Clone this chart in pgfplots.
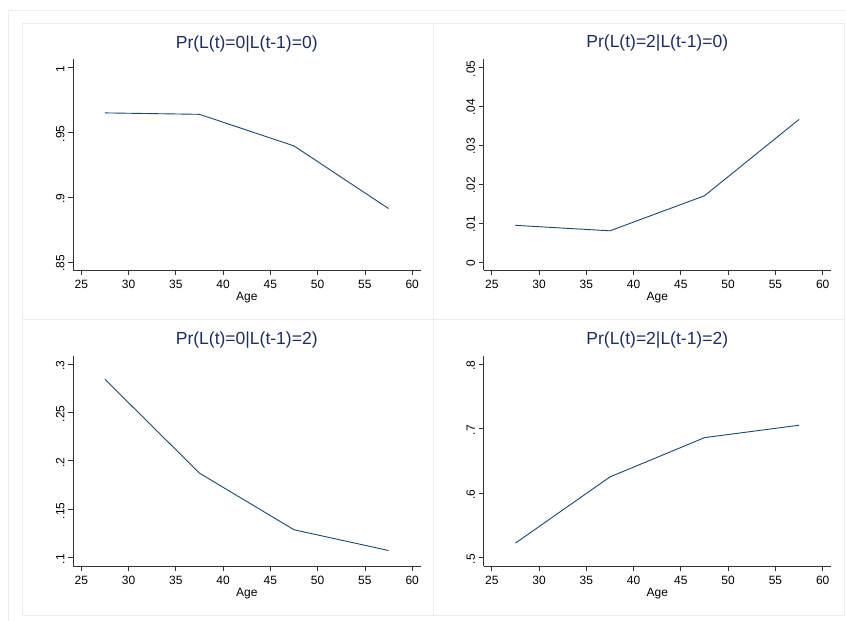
\documentclass[border=0pt]{standalone}
\usepackage{fontspec}
\setmainfont{Liberation Sans}
\usepackage{pgfplots}
\pgfplotsset{compat=1.18}
\definecolor{stnavy}{RGB}{26,71,111}
\definecolor{sttitle}{RGB}{30,45,95}
\definecolor{stframe}{RGB}{230,238,240}
\pgfplotsset{
 stata/.style={
  scale only axis, width=347.5bp, height=210.5bp,
  anchor=south west,
  axis x line*=bottom, axis y line*=left,
  axis line style={black!80, line width=0.9bp, -},
  tick align=outside, major tick length=5bp,
  tick style={black!80, line width=0.8bp},
  xmin=24.12, xmax=60.88,
  xtick={25,30,...,60},
  scaled y ticks=false, scaled x ticks=false,
  ticklabel style={font=\fontsize{12bp}{14bp}\selectfont},
  /pgf/number format/assume math mode=true,
  xlabel={Age},
  xlabel style={font=\fontsize{12bp}{14bp}\selectfont, at={(axis description cs:0.5,0)}, anchor=center, yshift=-27.4bp},
  yticklabel style={rotate=90, anchor=south, xshift=-1.5bp},
  xticklabel style={yshift=-1.5bp},
  title style={font=\fontsize{17.5bp}{20bp}\selectfont, text=sttitle, at={(0.5,1)}, anchor=center, yshift=10bp},
  cycle list={{stnavy, line width=0.9bp, mark=none}},
 }
}
\begin{document}
\begin{tikzpicture}
\path[use as bounding box, fill=white] (0,0) rectangle (846bp,621bp);
\draw[stframe, line width=1bp] (8bp,0) -- (8bp,610bp) -- (846bp,610bp);
\draw[stframe, line width=1bp] (22bp,5bp) rectangle (844bp,597bp);
\draw[stframe, line width=1bp] (433bp,5bp) -- (433bp,597bp);
\draw[stframe, line width=1bp] (22bp,301bp) -- (844bp,301bp);

\begin{axis}[stata, at={(73bp,351bp)},
  title={Pr(L(t)=0|L(t-1)=0)},
  ymin=0.8438, ymax=1.0062,
  ytick={0.85,0.9,0.95,1}, yticklabels={.85,.9,.95,1}]
\addplot[stnavy, line width=0.9bp, mark=none] coordinates {(27.5,0.965) (37.5,0.9639) (47.5,0.9395) (57.5,0.8912)};
\end{axis}

\begin{axis}[stata, at={(483.5bp,351bp)},
  title={Pr(L(t)=2|L(t-1)=0)},
  ymin=-0.00206, ymax=0.05198,
  ytick={0,0.01,0.02,0.03,0.04,0.05}, yticklabels={0,.01,.02,.03,.04,.05}]
\addplot[stnavy, line width=0.9bp, mark=none] coordinates {(27.5,0.0094) (37.5,0.0080) (47.5,0.0170) (57.5,0.0366)};
\end{axis}

\begin{axis}[stata, at={(73bp,54.5bp)},
  title={Pr(L(t)=0|L(t-1)=2)},
  ymin=0.091, ymax=0.3082,
  ytick={0.1,0.15,0.2,0.25,0.3}, yticklabels={.1,.15,.2,.25,.3}]
\addplot[stnavy, line width=0.9bp, mark=none] coordinates {(27.5,0.2842) (37.5,0.1873) (47.5,0.1289) (57.5,0.1075)};
\end{axis}

\begin{axis}[stata, at={(483.5bp,54.5bp)},
  title={Pr(L(t)=2|L(t-1)=2)},
  ymin=0.4865, ymax=0.8124,
  ytick={0.5,0.6,0.7,0.8}, yticklabels={.5,.6,.7,.8}]
\addplot[stnavy, line width=0.9bp, mark=none] coordinates {(27.5,0.5227) (37.5,0.6252) (47.5,0.686) (57.5,0.7052)};
\end{axis}
\end{tikzpicture}
\end{document}
